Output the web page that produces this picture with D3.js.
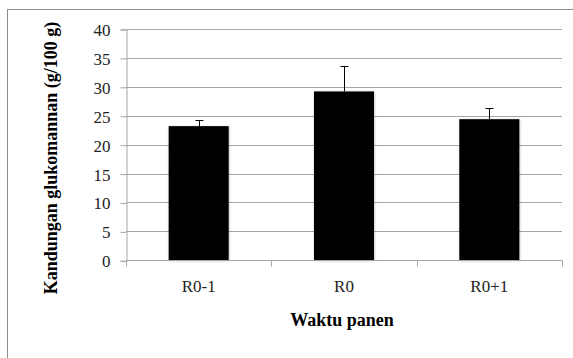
<!DOCTYPE html>
<html>
<head>
<meta charset="utf-8">
<script src="https://cdn.jsdelivr.net/npm/d3@7"></script>
<style>
  body { margin: 0; background: #fff; }
  svg { display: block; }
  svg text { font-family: 'Liberation Serif'; }
</style>
</head>
<body>
<svg width="573" height="358"></svg>
<script>
// chart data
const categories = ["R0-1", "R0", "R0+1"];
const values = [23.2, 29.2, 24.4];
const errors = [1.1, 4.4, 2.0];
const yTicks = [0, 5, 10, 15, 20, 25, 30, 35, 40];

const svg = d3.select("svg");
const SERIF = "'Liberation Serif'";

// soft shadow round the bars
svg.append("defs").append("filter")
  .attr("id", "shadow")
  .attr("x", "-10%").attr("y", "-10%")
  .attr("width", "120%").attr("height", "120%")
  .append("feDropShadow")
  .attr("dx", 0.5).attr("dy", 0.5)
  .attr("stdDeviation", 1)
  .attr("flood-color", "#000")
  .attr("flood-opacity", 0.25);

// outer chart frame
svg.append("rect")
  .attr("x", 7.5).attr("y", 9.5)
  .attr("width", 580).attr("height", 360)
  .attr("fill", "none")
  .attr("stroke", "#8c8c8c");

const plot = { left: 126, right: 562, top: 29, bottom: 260.3 };

const x = d3.scaleBand()
  .domain(categories)
  .range([plot.left, plot.right])
  .paddingInner(0.587)
  .paddingOuter(0.2935);

const y = d3.scaleLinear().domain([0, 40]).range([plot.bottom, plot.top]);

// gridlines
svg.append("g")
  .selectAll("line")
  .data(yTicks.filter((d) => d > 0))
  .join("line")
  .attr("x1", plot.left).attr("x2", plot.right)
  .attr("y1", (d) => Math.round(y(d)) + 0.5)
  .attr("y2", (d) => Math.round(y(d)) + 0.5)
  .attr("stroke", "#a6a6a6");

// y axis
const yAxis = svg.append("g")
  .attr("transform", `translate(${plot.left + 0.5},0.5)`)
  .call(d3.axisLeft(y).tickValues(yTicks).tickSize(6).tickPadding(10));
yAxis.attr("font-family", null).attr("font-size", null);
yAxis.select(".domain").attr("stroke", "#a6a6a6");
yAxis.selectAll(".tick line").attr("stroke", "#a6a6a6");
yAxis.selectAll(".tick text")
  .attr("fill", "#222")
  .attr("dy", "0.35em")
  .style("font-family", SERIF)
  .style("font-size", "17px");

// bars
svg.append("g")
  .selectAll("rect")
  .data(categories)
  .join("rect")
  .attr("x", (d) => x(d))
  .attr("y", (d, i) => y(values[i]))
  .attr("width", x.bandwidth())
  .attr("height", (d, i) => plot.bottom - y(values[i]))
  .attr("fill", "#000")
  .attr("filter", "url(#shadow)");

// error bars (upper only)
const eb = svg.append("g").attr("stroke", "#000").attr("stroke-width", 1);
categories.forEach((c, i) => {
  const cx = Math.round(x(c) + x.bandwidth() / 2) + 0.5;
  const top = Math.round(y(values[i] + errors[i])) + 0.5;
  eb.append("line")
    .attr("x1", cx).attr("x2", cx)
    .attr("y1", y(values[i])).attr("y2", top);
  eb.append("line")
    .attr("x1", cx - 4).attr("x2", cx + 4)
    .attr("y1", top).attr("y2", top);
});

// x axis
const xAxis = svg.append("g")
  .attr("transform", `translate(0,${Math.round(plot.bottom) + 0.5})`);
xAxis.append("line")
  .attr("x1", plot.left).attr("x2", plot.right + 0.5)
  .attr("stroke", "#a6a6a6");
xAxis.selectAll(".tk")
  .data([0, 1, 2, 3])
  .join("line")
  .attr("x1", (d) => Math.round(plot.left + d * x.step()) + 0.5)
  .attr("x2", (d) => Math.round(plot.left + d * x.step()) + 0.5)
  .attr("y1", 0).attr("y2", 6)
  .attr("stroke", "#a6a6a6");
xAxis.selectAll("text")
  .data(categories)
  .join("text")
  .attr("x", (d) => x(d) + x.bandwidth() / 2)
  .attr("y", 31)
  .attr("text-anchor", "middle")
  .attr("fill", "#222")
  .style("font-family", SERIF)
  .style("font-size", "17px")
  .text((d) => d);

// axis titles
svg.append("text")
  .attr("x", 342).attr("y", 326)
  .attr("text-anchor", "middle")
  .style("font-family", SERIF)
  .style("font-size", "18px")
  .style("font-weight", "bold")
  .text("Waktu panen");

svg.append("text")
  .attr("transform", "translate(57,158) rotate(-90)")
  .attr("text-anchor", "middle")
  .style("font-family", SERIF)
  .style("font-size", "18px")
  .style("font-weight", "bold")
  .text("Kandungan glukomannan (g/100 g)");
</script>
</body>
</html>
